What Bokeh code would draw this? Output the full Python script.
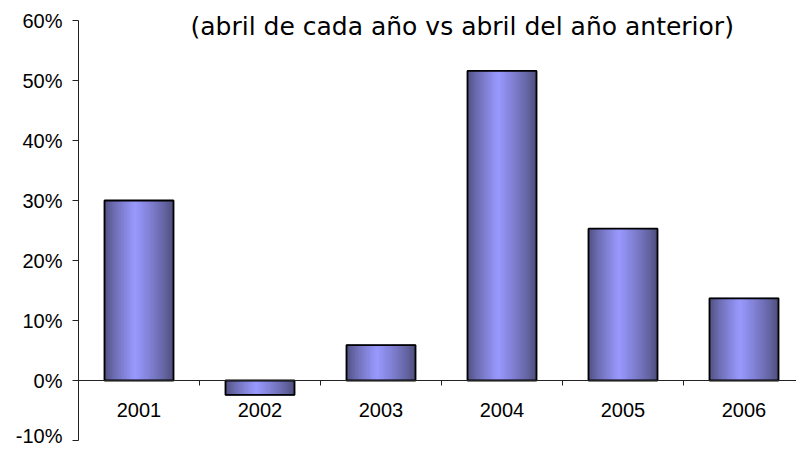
from bokeh.plotting import figure
from bokeh.models import Range1d, FixedTicker, PrintfTickFormatter, Title
from bokeh.transform import dodge
from bokeh.embed import file_html
from bokeh.resources import INLINE

# ---- data ----
years = ["2001", "2002", "2003", "2004", "2005", "2006"]
growth = [30.0, -2.4, 5.9, 51.6, 25.3, 13.7]   # % change, April vs April of previous year
y_ticks = [-10, 0, 10, 20, 30, 40, 50, 60]
title_text = "(abril de cada año vs abril del año anterior)"

# ---- layout ----
W, H = 796, 446
BL, BR, BT, BB = 78, 0, 20, 6
px_per_cat = 121.0
frame_w = W - BL - BR
xs = list(range(1, len(years) + 1))

p = figure(width=W, height=H, output_backend="svg", toolbar_location=None,
           x_range=Range1d(0.5, 0.5 + frame_w / px_per_cat),
           y_range=Range1d(-10, 60),
           min_border_left=BL, min_border_right=BR,
           min_border_top=BT, min_border_bottom=BB)
p.outline_line_color = None
p.grid.visible = False
p.background_fill_color = "white"

# ---- gradient bars (vertical strips, dark edges -> light centre) ----
bar_w = 0.57
N = 36
dark = (0x4d, 0x4d, 0x7a)
light = (0x99, 0x99, 0xff)
peak = 0.45
src = dict(x=xs, top=growth, bottom=[0] * len(xs))
for k in range(N):
    t = (k + 0.5) / N
    f = 1 - abs(t - peak) / peak if t < peak else 1 - (t - peak) / (1 - peak)
    f = max(0.0, min(1.0, f)) ** 0.8
    c = tuple(int(round(d + (l - d) * f)) for d, l in zip(dark, light))
    col = "#%02x%02x%02x" % c
    off = -bar_w / 2 + (k + 0.5) * bar_w / N
    p.vbar(x=dodge("x", off, range=p.x_range), top="top", bottom="bottom",
           width=bar_w / N, source=src, fill_color=col,
           line_color=col, line_width=1.2)

# outline
p.vbar(x="x", top="top", bottom="bottom", width=bar_w, source=src,
       fill_alpha=0, line_color="black", line_width=1.8)

# ---- axes ----
xa = p.xaxis[0]
xa.fixed_location = 0
xa.ticker = FixedTicker(ticks=xs, minor_ticks=[x + 0.5 for x in xs[:-1]])
xa.major_label_overrides = {x: y for x, y in zip(xs, years)}
xa.major_tick_out = 0
xa.major_tick_in = 0
xa.minor_tick_out = 5
xa.minor_tick_in = 0
xa.minor_tick_line_color = "#222222"
xa.axis_line_color = "#222222"
xa.major_label_standoff = 17
xa.major_label_text_font = "Arial"
xa.major_label_text_font_size = "20px"
xa.major_label_text_color = "black"

ya = p.yaxis[0]
ya.ticker = FixedTicker(ticks=y_ticks, minor_ticks=[])
ya.formatter = PrintfTickFormatter(format="%d%%")
ya.major_tick_out = 6
ya.major_tick_in = 0
ya.minor_tick_out = 0
ya.major_tick_line_color = "#222222"
ya.axis_line_color = "#222222"
ya.major_label_standoff = 10
ya.major_label_text_font = "Arial"
ya.major_label_text_font_size = "20px"
ya.major_label_text_color = "black"

# ---- title (overlapping the top of the plot area) ----
p.add_layout(Title(text=title_text, align="left", vertical_align="bottom",
                   offset=112, standoff=-40, text_font="DejaVu Sans",
                   text_font_size="25px", text_font_style="normal",
                   text_color="black"), "above")

open("out.html", "w").write(file_html(p, INLINE))
